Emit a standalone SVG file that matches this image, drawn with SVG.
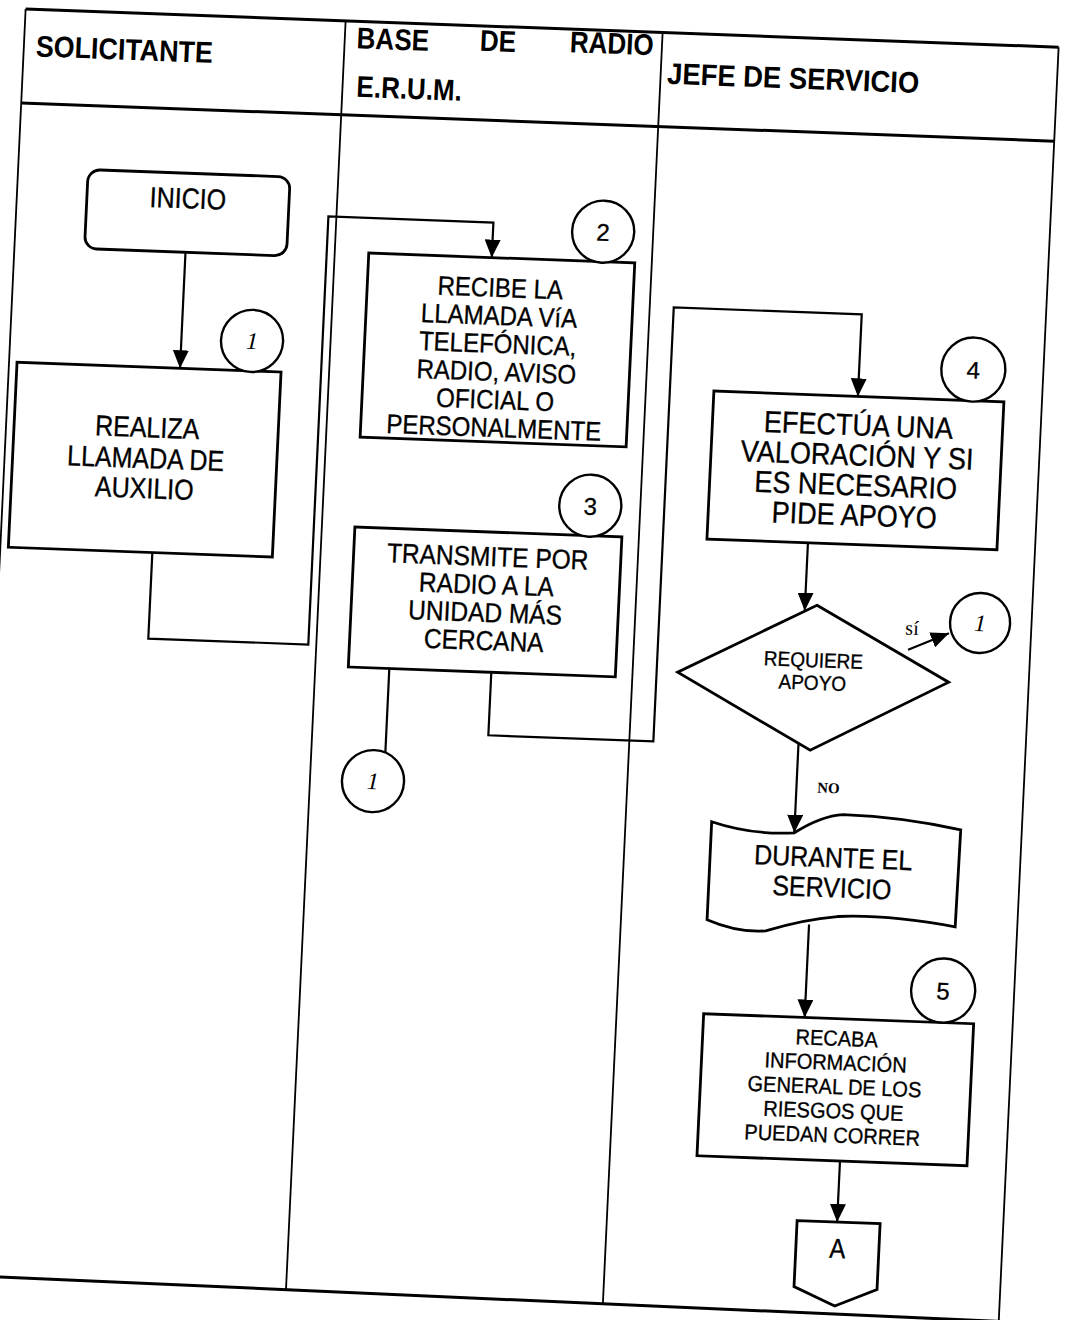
<svg xmlns="http://www.w3.org/2000/svg" width="1068" height="1320" viewBox="0 0 1068 1320">
<style>
.lane{fill:none;stroke:#000;stroke-width:1.8}
.frame{fill:none;stroke:#000;stroke-width:3}
.box{fill:#fff;stroke:#000;stroke-width:2.8}
.conn{fill:none;stroke:#000;stroke-width:2.2}
.num{fill:#fff;stroke:#000;stroke-width:2.4}
.t{font-family:"Liberation Sans",Arial,Helvetica,sans-serif;fill:#000;text-anchor:middle;stroke:#000;stroke-width:0.3}
.h{font-family:"Liberation Sans",Arial,Helvetica,sans-serif;font-weight:bold;fill:#000;font-size:26px}
.s{font-family:"Liberation Serif","Times New Roman",serif;fill:#000;text-anchor:middle}
</style>
<defs>
<marker id="ah" markerUnits="userSpaceOnUse" markerWidth="18" markerHeight="16" refX="18" refY="8" orient="auto" viewBox="0 0 18 16"><path d="M0,0 L18,8 L0,16 z" fill="#000"/></marker>
</defs>
<rect width="1068" height="1320" fill="#fff"/>
<g transform="matrix(1 0.037 -0.047 1 0 0)">
<g id="lanes">
<line class="frame" x1="26" y1="8" x2="1059" y2="8"/>
<line class="frame" x1="26" y1="102" x2="1059" y2="102"/>
<line class="lane" x1="26" y1="8" x2="26" y2="1300"/>
<line class="lane" x1="346" y1="8" x2="346" y2="1277"/>
<line class="lane" x1="663" y1="8" x2="663" y2="1279"/>
<line class="lane" x1="1059" y1="8" x2="1059" y2="1340"/>
<line class="frame" x1="-80" y1="1273.7" x2="1100" y2="1282.5"/>
<text class="h" transform="translate(38,55) scale(1,1.15)" textLength="177" lengthAdjust="spacingAndGlyphs">SOLICITANTE</text>
<text class="h" transform="translate(358,35) scale(1,1.15)">BASE</text>
<text class="h" transform="translate(481,33) scale(1,1.15)">DE</text>
<text class="h" transform="translate(571,31) scale(1,1.15)">RADIO</text>
<text class="h" transform="translate(360,83.5) scale(1,1.15)">E.R.U.M.</text>
<text class="h" transform="translate(669.5,59) scale(1,1.15)" textLength="252" lengthAdjust="spacingAndGlyphs">JEFE DE SERVICIO</text>
</g>
<g id="connectors">
<path class="conn" d="M197 245 V361" marker-end="url(#ah)"/>
<path class="conn" d="M178 546 V632 H338 V204 H503 V239" marker-end="url(#ah)"/>
<path class="conn" d="M420 653 V737"/>
<path class="conn" d="M522 653 V716 H687 V282 H875 V364" marker-end="url(#ah)"/>
<path class="conn" d="M832 512 V580" marker-end="url(#ah)"/>
<path class="conn" d="M937 615 L977 597" marker-end="url(#ah)"/>
<path class="conn" d="M832 713 V802" marker-end="url(#ah)"/>
<path class="conn" d="M851 893 V986" marker-end="url(#ah)"/>
<path class="conn" d="M893 1128 V1189" marker-end="url(#ah)"/>
</g>
<g id="inicio">
<rect class="box" x="96" y="166" width="202" height="79" rx="12"/>
<text class="t" font-size="25" transform="translate(197,201) scale(1,1.15)">INICIO</text>
</g>
<g id="paso1">
<rect class="box" x="34" y="361" width="264" height="185"/>
<text class="t" font-size="25" transform="translate(167,431) scale(1,1.15)"><tspan x="0" y="0">REALIZA</tspan><tspan x="0" y="27">LLAMADA DE</tspan><tspan x="0" y="53">AUXILIO</tspan></text>
<circle class="num" cx="267.6" cy="331" r="31"/>
<text class="s" font-size="24" font-style="italic" x="267.6" y="339">1</text>
</g>
<g id="paso2">
<rect class="box" x="380" y="239" width="266" height="184"/>
<text class="t" font-size="24" transform="translate(513,278) scale(1,1.12)"><tspan x="0" y="0">RECIBE LA</tspan><tspan x="0" y="25">LLAMADA VíA</tspan><tspan x="0" y="50">TELEFÓNICA,</tspan><tspan x="0" y="75">RADIO, AVISO</tspan><tspan x="0" y="100">OFICIAL O</tspan><tspan x="0" y="125">PERSONALMENTE</tspan></text>
<circle class="num" cx="613" cy="209" r="31"/>
<text class="t" font-size="24" x="613" y="218">2</text>
</g>
<g id="paso3">
<rect class="box" x="379" y="513" width="267" height="140"/>
<text class="t" font-size="24.5" transform="translate(513,547) scale(1,1.12)"><tspan x="0" y="0">TRANSMITE POR</tspan><tspan x="0" y="25">RADIO A LA</tspan><tspan x="0" y="50">UNIDAD MÁS</tspan><tspan x="0" y="75">CERCANA</tspan></text>
<circle class="num" cx="613" cy="483" r="31"/>
<text class="t" font-size="24" x="613" y="492">3</text>
</g>
<g id="conector1a">
<circle class="num" cx="409" cy="766" r="31"/>
<text class="s" font-size="24" font-style="italic" x="409" y="774">1</text>
</g>
<g id="paso4">
<rect class="box" x="731" y="364" width="290" height="148"/>
<text class="t" font-size="27" transform="translate(877,403) scale(1,1.12)"><tspan x="0" y="0">EFECTÚA UNA</tspan><tspan x="0" y="26.8">VALORACIÓN Y SI</tspan><tspan x="0" y="53.6">ES NECESARIO</tspan><tspan x="0" y="80.4">PIDE APOYO</tspan></text>
<circle class="num" cx="989" cy="333" r="32"/>
<text class="t" font-size="24" x="989" y="342">4</text>
</g>
<g id="decision">
<path class="box" d="M844 574 L979 646 L844 719 L708 646 Z"/>
<text class="t" font-size="19" transform="translate(843,636) scale(1,1.08)"><tspan x="0" y="0">REQUIERE</tspan><tspan x="0" y="21">APOYO</tspan></text>
<text class="s" font-size="20" x="940" y="600">sí</text>
<text class="s" font-size="15" font-weight="bold" x="864" y="761">NO</text>
</g>
<g id="conector1b">
<circle class="num" cx="1007.6" cy="585.7" r="30"/>
<text class="s" font-size="24" font-style="italic" x="1007.6" y="594">1</text>
</g>
<g id="durante">
<path class="box" d="M749 794 Q790 806 832 802 Q858 784 880 782 Q940 782 998 793 L997 890 Q930 880 879 884 Q845 888 808 901 Q780 904 749 892 Z"/>
<text class="t" font-size="25" transform="translate(872,835) scale(1,1.12)"><tspan x="0" y="0">DURANTE EL</tspan><tspan x="0" y="26.8">SERVICIO</tspan></text>
</g>
<g id="paso5">
<rect class="box" x="750" y="986" width="270" height="142"/>
<text class="t" font-size="20" transform="translate(884,1013) scale(1,1.08)"><tspan x="0" y="0">RECABA</tspan><tspan x="0" y="22.4">INFORMACIÓN</tspan><tspan x="0" y="44.8">GENERAL DE LOS</tspan><tspan x="0" y="67.2">RIESGOS QUE</tspan><tspan x="0" y="89.6">PUEDAN CORRER</tspan></text>
<circle class="num" cx="988" cy="954" r="32"/>
<text class="t" font-size="24" x="988" y="963">5</text>
</g>
<g id="conectorA">
<path class="box" d="M853 1189 L936 1189 L936 1255 L894.5 1273 L853 1255 Z"/>
<text class="t" font-size="24" transform="translate(894.5,1225) scale(1,1.15)">A</text>
</g>
</g>
</svg>
